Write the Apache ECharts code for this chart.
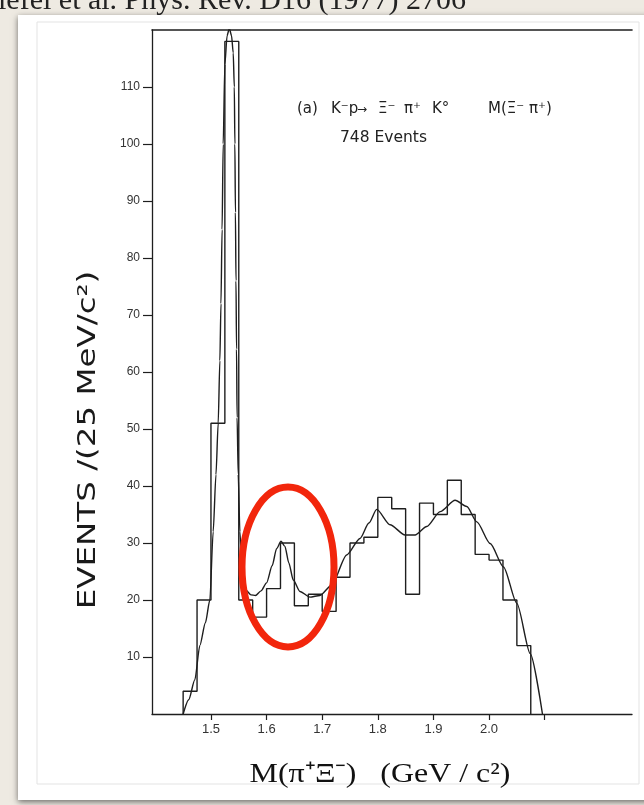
<!DOCTYPE html>
<html>
<head>
<meta charset="utf-8">
<script src="https://cdn.jsdelivr.net/npm/echarts@6/dist/echarts.min.js"></script>
<style>
  html, body { margin: 0; padding: 0; background: #eeeae2; }
  #chart { width: 644px; height: 805px; }
</style>
</head>
<body>
<div id="chart"></div>
<script>
// Ξ⁻π⁺ invariant-mass spectrum, 25 MeV/c² bins (lower edge of each bin, GeV/c²)
const binLow = [1.450, 1.475, 1.500, 1.525, 1.550, 1.575, 1.600, 1.625, 1.650, 1.675,
                1.700, 1.725, 1.750, 1.775, 1.800, 1.825, 1.850, 1.875, 1.900, 1.925,
                1.950, 1.975, 2.000, 2.025, 2.050];
const binCounts = [4, 20, 51, 118, 20, 17, 22, 30, 19, 21,
                   18, 24, 30, 31, 38, 36, 21, 37, 35, 41,
                   35, 28, 27, 20, 12];
const binWidth = 0.025;

// Fitted curve (mass in GeV/c², events per bin)
const fitMass = [1.450, 1.460, 1.471, 1.480, 1.490, 1.498, 1.504, 1.509, 1.513, 1.516,
                 1.518, 1.520, 1.522, 1.525, 1.529, 1.533, 1.537, 1.540, 1.542, 1.543,
                 1.544, 1.545, 1.546, 1.547, 1.549, 1.552, 1.556, 1.562, 1.572, 1.580,
                 1.590, 1.600, 1.610, 1.618, 1.626, 1.633, 1.640, 1.648, 1.660, 1.678,
                 1.696, 1.717, 1.744, 1.768, 1.784, 1.798, 1.822, 1.849, 1.867, 1.888,
                 1.912, 1.939, 1.960, 1.978, 2.002, 2.026, 2.050, 2.074, 2.096];
const fitEvents = [0, 2.5, 6, 12, 16, 20, 32, 42, 51, 62,
                   72, 85, 100, 114, 119, 120.3, 119, 116, 110, 100,
                   88, 76, 64, 52, 42, 32, 25, 21.8, 20.9, 20.8,
                   21.6, 23, 26, 29, 30.3, 29.4, 26.5, 23.5, 21.5, 20.5,
                   20.8, 22.6, 27.9, 30.8, 33.5, 35.9, 33.2, 31.4, 31.4, 32.9,
                   35.5, 37.5, 36.4, 33.7, 29.9, 25.8, 19.4, 10.6, 0];

// Axis ticks and labels
const xTickValues = [1.5, 1.6, 1.7, 1.8, 1.9, 2.0, 2.1];
const xLabelValues = [1.5, 1.6, 1.7, 1.8, 1.9, 2.0];
const yTickValues = [10, 20, 30, 40, 50, 60, 70, 80, 90, 100, 110];

// Histogram outline as a closed staircase
const histOutline = [[binLow[0], 0]];
binLow.forEach((lo, i) => {
  histOutline.push([lo, binCounts[i]]);
  histOutline.push([lo + binWidth, binCounts[i]]);
});
histOutline.push([binLow[binLow.length - 1] + binWidth, 0]);

const fitLine = fitMass.map((m, i) => [m, fitEvents[i]]);

const ink = '#1e1e1e';
const chart = echarts.init(document.getElementById('chart'), null, { renderer: 'canvas' });

// small helper for the annotation pieces
const note = (text, x, y, size) => ({
  type: 'text', z: 10, silent: true, x: x, y: y,
  style: { text: text, align: 'left', verticalAlign: 'middle',
           fontFamily: 'DejaVu Sans', fontSize: size, fill: '#222' }
});

chart.setOption({
  animation: false,
  backgroundColor: 'transparent',
  grid: { left: 152, right: 12, top: 30, bottom: 91, containLabel: false },
  xAxis: [{
    type: 'value',
    min: 1.394,
    max: 2.257,
    axisLine: { show: true, lineStyle: { color: ink, width: 1.3 } },
    axisTick: { show: true, inside: false, length: 6, customValues: xTickValues,
                lineStyle: { color: ink, width: 1.2 } },
    axisLabel: { show: true, customValues: xLabelValues, margin: 9,
                 fontFamily: 'Liberation Sans', fontSize: 13, color: '#333',
                 formatter: v => v.toFixed(1) },
    splitLine: { show: false }
  }, {
    type: 'value',
    position: 'top',
    min: 1.394,
    max: 2.257,
    axisLine: { show: true, lineStyle: { color: ink, width: 1.6 } },
    axisTick: { show: false },
    axisLabel: { show: false },
    splitLine: { show: false }
  }],
  yAxis: {
    type: 'value',
    min: 0,
    max: 120,
    axisLine: { show: true, lineStyle: { color: ink, width: 1.3 } },
    axisTick: { show: true, inside: false, length: 9, customValues: yTickValues,
                lineStyle: { color: ink, width: 1.2 } },
    axisLabel: { show: true, customValues: yTickValues, margin: 12,
                 fontFamily: 'Liberation Sans', fontSize: 12, color: '#333' },
    splitLine: { show: false }
  },
  series: [{
    name: 'events',
    type: 'line',
    data: histOutline,
    showSymbol: false,
    symbol: 'none',
    lineStyle: { color: ink, width: 1.4 },
    z: 3
  }, {
    name: 'fit',
    type: 'line',
    data: fitLine,
    showSymbol: false,
    symbol: 'none',
    smooth: 0.25,
    smoothMonotone: 'x',
    lineStyle: { color: ink, width: 1.4 },
    z: 4
  }],
  graphic: [
    // slide card with shadow and faint inner border
    { type: 'rect', z: -20, silent: true,
      shape: { x: 18, y: 15, width: 660, height: 785 },
      style: { fill: '#ffffff', shadowBlur: 6, shadowColor: 'rgba(0,0,0,0.55)', shadowOffsetY: 2 } },
    { type: 'rect', z: -19, silent: true,
      shape: { x: 37, y: 22, width: 602, height: 762 },
      style: { fill: 'none', stroke: '#e3e3e3', lineWidth: 1 } },
    // reference line at the top of the slide
    { type: 'text', z: 10, silent: true, x: 466, y: 16,
      style: { text: 'Briefel et al. Phys. Rev. D16 (1977) 2706', align: 'right', verticalAlign: 'bottom',
               fontFamily: 'Liberation Serif', fontSize: 30, fill: '#222' } },
    // y-axis title
    { type: 'text', z: 10, silent: true, x: 88, y: 440, rotation: Math.PI / 2, scaleX: 1.3,
      style: { text: 'EVENTS /(25 MeV/c²)', align: 'center', verticalAlign: 'middle',
               fontFamily: 'DejaVu Sans', fontSize: 25, fill: '#1a1a1a' } },
    // x-axis title
    { type: 'text', z: 10, silent: true, x: 380, y: 775, scaleX: 1.14,
      style: { text: 'M(π⁺Ξ⁻)   (GeV / c²)', align: 'center', verticalAlign: 'middle',
               fontFamily: 'Liberation Serif', fontSize: 28, fill: '#111' } },
    // reaction annotation
    note('(a)', 297, 109, 15),
    note('K⁻p', 331, 109, 15),
    note('→', 357, 110, 12),
    note('Ξ⁻', 378, 109, 15),
    note('π⁺', 404, 109, 15),
    note('K°', 432, 109, 15),
    note('M(Ξ⁻ π⁺)', 488, 109, 15),
    note('748 Events', 340, 138, 15.5),
    // highlight around the 1.62 GeV bump
    { type: 'ellipse', z: 20, silent: true,
      shape: { cx: 288, cy: 567, rx: 46, ry: 80 },
      style: { fill: 'none', stroke: '#f2260c', lineWidth: 7 } }
  ]
});
</script>
</body>
</html>
